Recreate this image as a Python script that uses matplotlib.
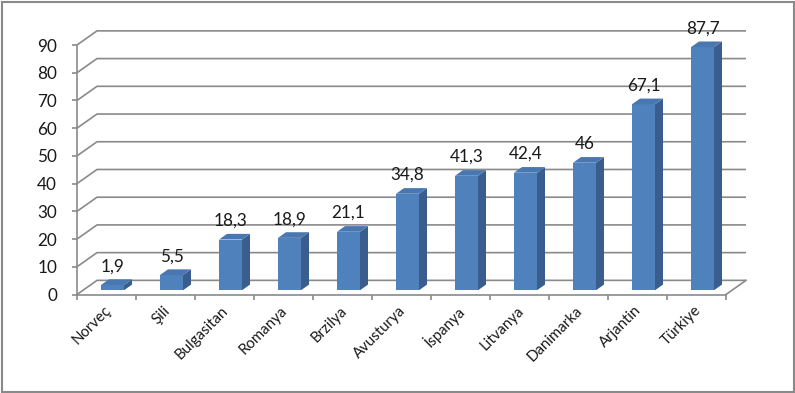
import matplotlib
matplotlib.use('Agg')
import matplotlib.pyplot as plt
from matplotlib.patches import Polygon, Rectangle
from matplotlib.transforms import ScaledTranslation
import numpy as np

categories = ['Norveç', 'Şili', 'Bulgasitan', 'Romanya', 'Brzilya', 'Avusturya',
              'İspanya', 'Litvanya', 'Danimarka', 'Arjantin', 'Türkiye']
values = [1.9, 5.5, 18.3, 18.9, 21.1, 34.8, 41.3, 42.4, 46, 67.1, 87.7]
value_labels = ['1,9', '5,5', '18,3', '18,9', '21,1', '34,8', '41,3', '42,4', '46', '67,1', '87,7']
y_ticks = list(range(0, 100, 10))

plt.rcParams['font.family'] = ['Lato', 'DejaVu Sans']

W, H = 795, 393
fig = plt.figure(figsize=(W / 100, H / 100), dpi=100)
fig.patch.set_facecolor('white')
ax = fig.add_axes([77 / W, (H - 294.5) / H, 649 / W, 249.5 / H])
n = len(categories)
ax.set_xlim(0, n)
ax.set_ylim(0, 90)
ax.set_facecolor('none')

DX, DY = 20 / 59, 5.1
grid_c = '#8a8a8a'
lw = 1.2
txt_c = '#1a1a1a'

# side wall diagonals + back wall gridlines
for v in y_ticks:
    ax.plot([0, DX, n + DX], [v, v + DY, v + DY], color=grid_c, lw=lw,
            clip_on=False, zorder=1, solid_capstyle='butt')
# floor right edge
ax.plot([n, n + DX], [0, DY], color=grid_c, lw=lw, clip_on=False, zorder=1)

for s in ['top', 'right']:
    ax.spines[s].set_visible(False)
for s in ['left', 'bottom']:
    ax.spines[s].set_color(grid_c)
    ax.spines[s].set_linewidth(lw)

ax.set_yticks(y_ticks)
ax.set_yticklabels([str(v) for v in y_ticks])
ax.tick_params(axis='y', length=3.8, width=lw, color=grid_c, pad=10.5,
               labelsize=12.3, labelcolor=txt_c)

ax.set_xticks(np.arange(n + 1))
ax.set_xticklabels([''] * (n + 1))
ax.tick_params(axis='x', which='major', length=3.8, width=lw, color=grid_c)
ax.set_xticks(np.arange(n) + 0.5, minor=True)
ax.set_xticklabels(categories, minor=True)
ax.tick_params(axis='x', which='minor', length=0, pad=10, labelsize=10.8,
               labelcolor=txt_c)
for lab in ax.get_xticklabels(minor=True):
    lab.set_rotation(45)
    lab.set_ha('right')
    lab.set_va('center')
    lab.set_rotation_mode('anchor')
    lab.set_transform(lab.get_transform() + ScaledTranslation(2 / 100, 0, fig.dpi_scale_trans))

# bars
w = 0.39
f0, f1 = 0.3, 0.7
ddx, ddy = (f1 - f0) * DX, (f1 - f0) * DY
front_c, side_c, top_c = '#4F81BD', '#395E8E', '#4877B2'
for i, (v, lbl) in enumerate(zip(values, value_labels)):
    x0 = i + 0.5 - w / 2 + f0 * DX
    y0 = f0 * DY
    ax.add_patch(Rectangle((x0, y0), w, v, facecolor=front_c, edgecolor='none',
                           zorder=3, clip_on=False))
    ax.add_patch(Polygon([(x0 + w, y0), (x0 + w + ddx, y0 + ddy),
                          (x0 + w + ddx, y0 + v + ddy), (x0 + w, y0 + v)],
                         closed=True, facecolor=side_c, edgecolor='none', zorder=3, clip_on=False))
    ax.add_patch(Polygon([(x0, y0 + v), (x0 + w, y0 + v), (x0 + w + ddx, y0 + v + ddy),
                          (x0 + ddx, y0 + v + ddy)],
                         closed=True, facecolor=top_c, edgecolor='none', zorder=3, clip_on=False))
    ax.annotate(lbl, (x0 + w / 2, y0 + v + ddy), xytext=(0, 5.8), textcoords='offset points',
                ha='center', va='baseline', fontsize=12.3, color=txt_c,
                annotation_clip=False, zorder=4)

# outer border
fig.add_artist(Rectangle((1.5 / W, 1.0 / H), 792.5 / W, 390.5 / H, transform=fig.transFigure,
                         fill=False, edgecolor='#8a8a8a', linewidth=1.5))

fig.savefig('out.png', dpi=100)
